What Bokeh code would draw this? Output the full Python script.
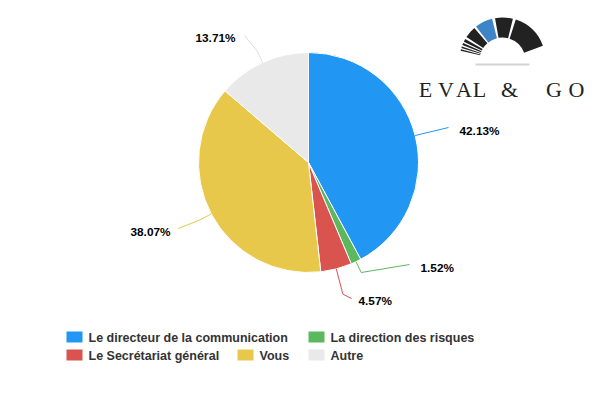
import math
from bokeh.plotting import figure
from bokeh.models import Range1d
from bokeh.core.properties import value
from bokeh.embed import file_html
from bokeh.resources import INLINE

# ---- data ----
categories = ["Le directeur de la communication", "La direction des risques",
              "Le Secrétariat général", "Vous", "Autre"]
percents = [42.13, 1.52, 4.57, 38.07, 13.71]
labels = ["42.13%", "1.52%", "4.57%", "38.07%", "13.71%"]
colors = ["#2196F3", "#5CB85C", "#D9534F", "#E8C84A", "#E9E9E9"]

# ---- layout (screen pixels of the page) ----
W, H = 598, 391
def px(X):
    return X
def py(Y):
    return H - Y

CX, CY, R = 308, 162, 110
label_pos = [(459, 130, "left"), (420, 267, "left"), (358, 300, "left"),
             (170, 231, "right"), (235, 37, "right")]
conn_end = [(448, 127), (409, 264), (351, 298), (178, 228), (244, 35)]
elbow_extra = [8, 12, 26, 12, 12]

legend_pos = [(66, 0), (308, 0), (66, 1), (237, 1), (308, 1)]
legend_row_y = [337, 355]

p = figure(width=W, height=H, output_backend="svg", toolbar_location=None,
           x_range=Range1d(0, W), y_range=Range1d(0, H),
           x_axis_type=None, y_axis_type=None, min_border=0,
           outline_line_color=None, background_fill_color="white",
           border_fill_color="white")
p.grid.visible = False

total = sum(percents)
cum = 0.0
starts, ends, mids = [], [], []
for v in percents:
    a0 = math.pi / 2 - 2 * math.pi * cum / total
    cum += v
    a1 = math.pi / 2 - 2 * math.pi * cum / total
    starts.append(a0)
    ends.append(a1)
    mids.append((a0 + a1) / 2)

p.wedge(x=[px(CX)] * len(percents), y=[py(CY)] * len(percents), radius=R,
        start_angle=starts, end_angle=ends, direction="clock",
        fill_color=colors, line_color="white", line_width=1)

for i, m in enumerate(mids):
    ex = px(CX) + R * math.cos(m)
    ey = py(CY) + R * math.sin(m)
    r2 = R + elbow_extra[i]
    bx = px(CX) + r2 * math.cos(m)
    by = py(CY) + r2 * math.sin(m)
    cx_, cy_ = conn_end[i]
    lc = colors[i] if colors[i] != "#E9E9E9" else "#DDDDDD"
    p.line([ex, bx, px(cx_)], [ey, by, py(cy_)], line_color=lc, line_width=1)
    lx, ly, al = label_pos[i]
    p.text(x=[px(lx)], y=[py(ly)], text=[labels[i]], text_align=al,
           text_baseline="middle", text_font=value("Liberation Sans"),
           text_font_size="11.8px", text_font_style="bold", text_color="#000000")

for i, cat in enumerate(categories):
    sx, row = legend_pos[i]
    yc = legend_row_y[row]
    p.rect(x=[px(sx + 8)], y=[py(yc - 0.5)], width=16, height=11,
           fill_color=colors[i], line_color=None)
    p.text(x=[px(sx + 22)], y=[py(yc)], text=[cat], text_align="left",
           text_baseline="middle", text_font=value("Liberation Sans"),
           text_font_size="12.5px", text_font_style="bold", text_color="#333333")

# logo: gauge
GX, GY = 502, 60
seg = [(20, 72, "#222222"), (76, 100, "#222222"), (104, 128, "#3D85C6"),
       (131, 147, "#222222"), (150, 154, "#222222"), (156, 159, "#222222"),
       (161, 163, "#222222"), (165, 167, "#222222")]
p.annular_wedge(x=[px(GX)] * len(seg), y=[py(GY)] * len(seg),
                inner_radius=23, outer_radius=43,
                start_angle=[math.radians(s[0]) for s in seg],
                end_angle=[math.radians(s[1]) for s in seg],
                fill_color=[s[2] for s in seg], line_color=None)
p.line([px(475), px(529)], [py(64), py(64)], line_color="#D3D3D3", line_width=2)
logo_letters = ["E", "V", "A", "L", "&", "G", "O"]
logo_x = [425, 445.5, 463.5, 479, 509, 553.5, 576]
p.text(x=[px(x) for x in logo_x], y=[py(89)] * len(logo_x), text=logo_letters,
       text_align="center", text_baseline="alphabetic",
       text_font=value("Liberation Serif"), text_font_size="22px",
       text_color="#222222")

open("out.html", "w").write(file_html(p, INLINE))
